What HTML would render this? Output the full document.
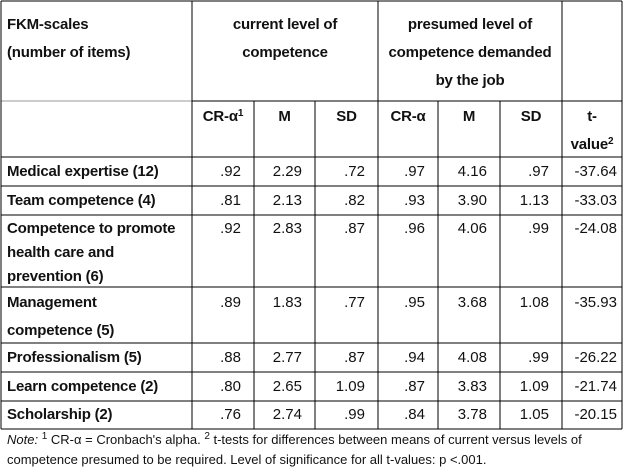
<!DOCTYPE html>
<html><head><meta charset="utf-8"><style>
body{margin:0;width:624px;height:472px;background:#fff;position:relative;overflow:hidden;font-family:"Liberation Sans",Arial,sans-serif;font-size:15px;color:#111}
.t{position:absolute;height:16px;line-height:16px;white-space:nowrap}
.b{font-weight:bold;letter-spacing:-0.2px}
.r{text-align:right}
.c{text-align:center}
sup{font-size:10px;line-height:0;vertical-align:5px}
svg{position:absolute;left:0;top:0}
</style></head><body>
<svg width="624" height="472">
<g stroke="#000" stroke-width="1.3" shape-rendering="crispEdges">
<line x1="1" y1="1" x2="622" y2="1"/>
<line x1="1" y1="101" x2="192" y2="101" stroke="#999"/>
<line x1="192" y1="101" x2="622" y2="101"/>
<line x1="1" y1="157" x2="622" y2="157"/>
<line x1="1" y1="186" x2="622" y2="186"/>
<line x1="1" y1="215" x2="622" y2="215"/>
<line x1="1" y1="287" x2="622" y2="287"/>
<line x1="1" y1="343" x2="622" y2="343"/>
<line x1="1" y1="372" x2="622" y2="372"/>
<line x1="1" y1="401" x2="622" y2="401"/>
<line x1="1" y1="429" x2="622" y2="429"/>
<line x1="1" y1="1" x2="1" y2="429"/>
<line x1="192" y1="1" x2="192" y2="429"/>
<line x1="254" y1="101" x2="254" y2="429"/>
<line x1="315" y1="101" x2="315" y2="429"/>
<line x1="378" y1="1" x2="378" y2="429"/>
<line x1="438" y1="101" x2="438" y2="429"/>
<line x1="500" y1="101" x2="500" y2="429"/>
<line x1="562" y1="1" x2="562" y2="429"/>
<line x1="622" y1="1" x2="622" y2="429"/>
</g></svg>

<div class="t b" style="left:7px;top:17px">FKM-scales</div>
<div class="t b" style="left:7px;top:45px">(number of items)</div>
<div class="t b c" style="left:192px;width:186px;top:17px">current level of</div>
<div class="t b c" style="left:192px;width:186px;top:45px">competence</div>
<div class="t b c" style="left:378px;width:184px;top:17px">presumed level of</div>
<div class="t b c" style="left:378px;width:184px;top:45px">competence demanded</div>
<div class="t b c" style="left:378px;width:184px;top:73px">by the job</div>

<div class="t b c" style="left:192px;width:62px;top:109px">CR-α<sup>1</sup></div>
<div class="t b c" style="left:254px;width:61px;top:109px">M</div>
<div class="t b c" style="left:315px;width:63px;top:109px">SD</div>
<div class="t b c" style="left:378px;width:60px;top:109px">CR-α</div>
<div class="t b c" style="left:438px;width:62px;top:109px">M</div>
<div class="t b c" style="left:500px;width:62px;top:109px">SD</div>
<div class="t b c" style="left:562px;width:60px;top:109px">t-</div>
<div class="t b c" style="left:562px;width:60px;top:137px">value<sup>2</sup></div>

<div id="rows"></div>
<div class="t b" style="left:7px;top:164px">Medical expertise (12)</div>
<div class="t b" style="left:7px;top:193px">Team competence (4)</div>
<div class="t b" style="left:7px;top:221px">Competence to promote</div>
<div class="t b" style="left:7px;top:245px">health care and</div>
<div class="t b" style="left:7px;top:269px">prevention (6)</div>
<div class="t b" style="left:7px;top:295px">Management</div>
<div class="t b" style="left:7px;top:323px">competence (5)</div>
<div class="t b" style="left:7px;top:350px">Professionalism (5)</div>
<div class="t b" style="left:7px;top:379px">Learn competence (2)</div>
<div class="t b" style="left:7px;top:407px">Scholarship (2)</div>

<script>
var cols=[[192,254],[254,315],[315,378],[378,438],[438,500],[500,562],[562,622]];
var rows=[[164,[".92","2.29",".72",".97","4.16",".97","-37.64"]],
[193,[".81","2.13",".82",".93","3.90","1.13","-33.03"]],
[221,[".92","2.83",".87",".96","4.06",".99","-24.08"]],
[295,[".89","1.83",".77",".95","3.68","1.08","-35.93"]],
[350,[".88","2.77",".87",".94","4.08",".99","-26.22"]],
[379,[".80","2.65","1.09",".87","3.83","1.09","-21.74"]],
[407,[".76","2.74",".99",".84","3.78","1.05","-20.15"]]];
var h="";
rows.forEach(function(r){r[1].forEach(function(v,i){var c=cols[i];var pad=i==6?5:13;
h+='<div class="t r" style="left:'+c[0]+'px;width:'+(c[1]-c[0]-pad)+'px;top:'+r[0]+'px">'+v+'</div>';});});
document.getElementById("rows").innerHTML=h;
</script>

<div class="t" style="left:7px;top:432px;font-size:13px"><i>Note:</i> <sup>1</sup> CR-α = Cronbach's alpha. <sup>2</sup> t-tests for differences between means of current versus levels of</div>
<div class="t" style="left:7px;top:452px;font-size:13px">competence presumed to be required. Level of significance for all t-values: p &lt;.001.</div>
</body></html>
